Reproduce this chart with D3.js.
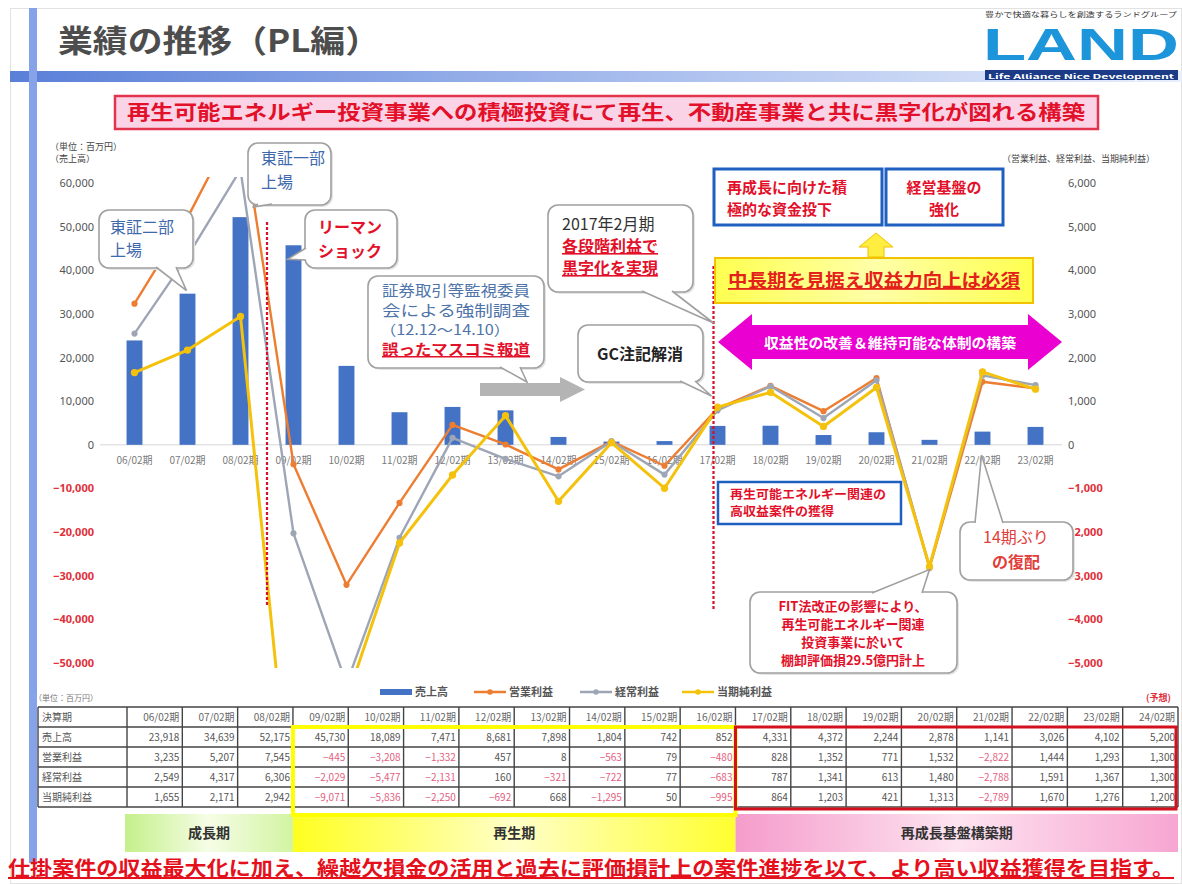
<html>
<head>
<meta charset="utf-8">
<style>
body { margin: 0; background: #fff; }
svg text { font-family: "Noto Sans CJK JP", "Noto Sans", sans-serif; }
.ul { text-decoration: underline; }
</style>
</head>
<body>
<div id="vis"></div>
<script src="https://cdn.jsdelivr.net/npm/d3@7"></script>
<script>
// values in 百万円
var periods = ["06/02期","07/02期","08/02期","09/02期","10/02期","11/02期","12/02期","13/02期","14/02期",
               "15/02期","16/02期","17/02期","18/02期","19/02期","20/02期","21/02期","22/02期","23/02期"];
var sales     = [23918, 34639, 52175, 45730, 18089, 7471, 8681, 7898, 1804, 742, 852, 4331, 4372, 2244, 2878, 1141, 3026, 4102];
var opIncome  = [3235, 5207, 7545, -445, -3208, -1332, 457, 8, -563, 79, -480, 828, 1352, 771, 1532, -2822, 1444, 1293];
var ordIncome = [2549, 4317, 6306, -2029, -5477, -2131, 160, -321, -722, 77, -683, 787, 1341, 613, 1480, -2788, 1591, 1367];
var netIncome = [1655, 2171, 2942, -9071, -5836, -2250, -692, 668, -1295, 50, -995, 864, 1203, 421, 1313, -2789, 1670, 1276];
// 24/02期 forecast, table only (売上高, 営業利益, 経常利益, 当期純利益)
var forecastPeriod = "24/02期";
var forecast = [5200, 1300, 1300, 1200];
var seriesNames = ["売上高", "営業利益", "経常利益", "当期純利益"];
var leftTicks = [-50000, -40000, -30000, -20000, -10000, 0, 10000, 20000, 30000, 40000, 50000, 60000];
var rightTicks = [-5000, -4000, -3000, -2000, -1000, 0, 1000, 2000, 3000, 4000, 5000, 6000];
var phases = ["成長期", "再生期", "再成長基盤構築期"];
var phaseFrom = ["06/02期", "09/02期", "17/02期"];
var phaseTo = ["08/02期", "16/02期", "24/02期"];

var W = 1182, H = 884;
var red = "#e3102a", blueTxt = "#3f69ad";

var svg = d3.select("#vis").append("svg").attr("width", W).attr("height", H);
var defs = svg.append("defs");

function hgrad(id, stops) {
  var g = defs.append("linearGradient").attr("id", id);
  stops.forEach(function(s) { g.append("stop").attr("offset", s[0]).attr("stop-color", s[1]); });
}
hgrad("gBand", [["0", "#5a7fd8"], ["0.55", "#aabfee"], ["1", "#e8eefb"]]);
hgrad("gGreen", [["0", "#c4f08a"], ["0.5", "#f6fde6"], ["1", "#d2f4a2"]]);
hgrad("gYellow", [["0", "#ffff20"], ["0.5", "#ffffc8"], ["1", "#ffff30"]]);
hgrad("gPink", [["0", "#f59ccb"], ["0.5", "#fde3f0"], ["1", "#f7a6d1"]]);
hgrad("gYbox", [["0", "#ffff50"], ["0.5", "#ffffa8"], ["1", "#ffff50"]]);

// ---------- slide frame ----------
svg.append("rect").attr("x", 10.5).attr("y", 8.5).attr("width", 1171).attr("height", 875)
  .attr("fill", "none").attr("stroke", "#e2e2e2");
svg.append("rect").attr("x", 10).attr("y", 71).attr("width", 1172).attr("height", 11).attr("fill", "url(#gBand)");
svg.append("rect").attr("x", 29).attr("y", 8).attr("width", 8).attr("height", 855).attr("fill", "#86a2e8");
svg.append("text").attr("x", 58).attr("y", 52).attr("font-size", 31).attr("font-weight", "bold")
  .attr("fill", "#4d4d4d").attr("textLength", 322).attr("lengthAdjust", "spacingAndGlyphs").text("業績の推移（PL編）");

// logo
svg.append("text").attr("x", 985).attr("y", 17).attr("font-size", 6.5).attr("fill", "#333")
  .attr("textLength", 192).attr("lengthAdjust", "spacingAndGlyphs").text("豊かで快適な暮らしを創造するランドグループ");
svg.append("text").attr("x", 983).attr("y", 60).attr("font-size", 44).attr("font-weight", "bold")
  .style("font-family", "Liberation Sans Narrow, Liberation Sans, sans-serif")
  .attr("fill", "#1c95da").attr("textLength", 196).attr("lengthAdjust", "spacingAndGlyphs").text("LAND");
svg.append("rect").attr("x", 985).attr("y", 70).attr("width", 193).attr("height", 10).attr("fill", "#1b3b86");
svg.append("text").attr("x", 988).attr("y", 78.5).attr("font-size", 6).attr("font-weight", "bold").attr("fill", "#fff")
  .attr("textLength", 186).attr("lengthAdjust", "spacingAndGlyphs").text("Life Alliance Nice Development");

// banner
svg.append("rect").attr("x", 115).attr("y", 96).attr("width", 983).attr("height", 33)
  .attr("fill", "#fbd3e6").attr("stroke", "#e2344c").attr("stroke-width", 2.5);
svg.append("text").attr("x", 606).attr("y", 120).attr("text-anchor", "middle").attr("font-size", 20)
  .attr("font-weight", "bold").attr("fill", red).attr("textLength", 958).attr("lengthAdjust", "spacingAndGlyphs")
  .text("再生可能エネルギー投資事業への積極投資にて再生、不動産事業と共に黒字化が図れる構築");

// ---------- scales ----------
var x = d3.scaleBand().domain(periods).range([108, 1062]).paddingInner(0.7).paddingOuter(0.35);
var bw = x.bandwidth();
var cx = function(p) { return x(p) + bw / 2; };
var yL = d3.scaleLinear().domain([-50000, 60000]).range([663, 183]);
var yR = d3.scaleLinear().domain([-5000, 6000]).range([663, 183]);

// axis titles
svg.append("text").attr("x", 50).attr("y", 150).attr("font-size", 9).attr("fill", "#444").text("（単位：百万円）");
svg.append("text").attr("x", 50).attr("y", 162).attr("font-size", 9).attr("fill", "#444").text("（売上高）");
svg.append("text").attr("x", 1002).attr("y", 162).attr("font-size", 9).attr("fill", "#444").text("（営業利益、経常利益、当期純利益）");

// y axes
var axL = svg.append("g").attr("transform", "translate(98,0)")
  .call(d3.axisLeft(yL).tickValues(leftTicks).tickSize(0).tickPadding(4).tickFormat(d3.format(",")));
var axR = svg.append("g").attr("transform", "translate(1064,0)")
  .call(d3.axisRight(yR).tickValues(rightTicks).tickSize(0).tickPadding(4).tickFormat(d3.format(",")));
[axL, axR].forEach(function(a) {
  a.select(".domain").remove();
  a.selectAll("text").attr("font-size", 11)
    .style("font-family", "Noto Sans, sans-serif")
    .attr("fill", function(d) { return d < 0 ? "#e0303a" : "#555"; })
    .attr("font-weight", function(d) { return d < 0 ? "bold" : "normal"; });
});

// x axis at zero
var axX = svg.append("g").attr("transform", "translate(0," + yL(0) + ")")
  .call(d3.axisBottom(x).tickSize(0).tickPadding(12));
axX.select(".domain").attr("stroke", "#d6d6d6").attr("d", "M100,0H1062");
axX.selectAll("text").attr("font-size", 10).attr("fill", "#7a7a7a");

// bars
svg.append("g").selectAll("rect").data(sales).enter().append("rect")
  .attr("x", function(d, i) { return x(periods[i]); })
  .attr("width", bw)
  .attr("y", function(d) { return yL(d); })
  .attr("height", function(d) { return yL(0) - yL(d); })
  .attr("fill", "#4472c4");

// lines
defs.append("clipPath").attr("id", "plotClip").append("rect")
  .attr("x", 100).attr("y", 177).attr("width", 965).attr("height", 491);
var plot = svg.append("g").attr("clip-path", "url(#plotClip)");
var line = d3.line().x(function(d, i) { return cx(periods[i]); }).y(function(d) { return yR(d); });
var series = [
  { v: opIncome, c: "#ed7d31", w: 2.4, r: 30 },
  { v: ordIncome, c: "#9ea6b6", w: 2.4, r: 30 },
  { v: netIncome, c: "#f4c20d", w: 3, r: 42 }
];
series.forEach(function(s) {
  plot.append("path").datum(s.v).attr("d", line).attr("fill", "none")
    .attr("stroke", s.c).attr("stroke-width", s.w).attr("stroke-linejoin", "round");
  plot.selectAll(null).data(s.v).enter().append("path")
    .attr("transform", function(d, i) { return "translate(" + cx(periods[i]) + "," + yR(d) + ")"; })
    .attr("d", d3.symbol(d3.symbolCircle, s.r)).attr("fill", s.c);
});

// legend
var lg = svg.append("g").attr("transform", "translate(0,692)");
var legX = [380, 474, 580, 682];
var legC = ["#4472c4", "#ed7d31", "#9ea6b6", "#f4c20d"];
seriesNames.forEach(function(n, i) {
  if (i === 0) {
    lg.append("rect").attr("x", legX[i]).attr("y", -3).attr("width", 32).attr("height", 6).attr("fill", legC[i]);
  } else {
    lg.append("line").attr("x1", legX[i]).attr("x2", legX[i] + 32).attr("stroke", legC[i]).attr("stroke-width", 2.5);
    lg.append("circle").attr("cx", legX[i] + 16).attr("r", 2.8).attr("fill", legC[i]);
  }
  lg.append("text").attr("x", legX[i] + 35).attr("y", 4).attr("font-size", 11).attr("font-weight", "bold")
    .attr("fill", "#555").text(n);
});

// ---------- annotations ----------
var ann = svg.append("g");
function callout(b, base, tip, stroke) {
  var g = ann.append("g");
  g.append("rect").attr("x", b[0] + 2).attr("y", b[1] + 2).attr("width", b[2]).attr("height", b[3]).attr("rx", 10)
    .attr("fill", "#e4e4e4");
  g.append("rect").attr("x", b[0]).attr("y", b[1]).attr("width", b[2]).attr("height", b[3]).attr("rx", 10)
    .attr("fill", "#fff").attr("stroke", stroke || "#a0a0a0").attr("stroke-width", 1.6);
  g.append("path").attr("d", "M" + base[0] + "L" + tip + "L" + base[1])
    .attr("fill", "#fff").attr("stroke", stroke || "#a0a0a0").attr("stroke-width", 1.6);
  return g;
}
function txt(g, s, xx, yy, size, fill, opts) {
  opts = opts || {};
  var t = g.append("text").attr("x", xx).attr("y", yy).attr("font-size", size).attr("fill", fill)
    .attr("text-anchor", opts.anchor || "start").attr("font-weight", opts.bold ? "bold" : "normal").text(s);
  if (opts.ul) t.attr("class", "ul");
  if (opts.len) t.attr("textLength", opts.len).attr("lengthAdjust", "spacingAndGlyphs");
  return t;
}

// red dotted event lines
var ev1 = (cx(periods[2]) + cx(periods[3])) / 2;
var ev2 = cx(periods[11]) - 4;
ann.append("line").attr("x1", ev1).attr("x2", ev1).attr("y1", 222).attr("y2", 605)
  .attr("stroke", "#d8102a").attr("stroke-width", 2.2).attr("stroke-dasharray", "3,2");
ann.append("line").attr("x1", ev2).attr("x2", ev2).attr("y1", 266).attr("y2", 610)
  .attr("stroke", "#d8102a").attr("stroke-width", 2.2).attr("stroke-dasharray", "3,2");

// 東証二部上場
var c1 = callout([99, 210, 94, 58], [[156, 267], [176, 267]], [cx(periods[1]) - 1, yL(sales[1]) - 3]);
txt(c1, "東証二部", 110, 233, 16, blueTxt);
txt(c1, "上場", 110, 256, 16, blueTxt);
// 東証一部上場
var c2 = callout([248, 143, 83, 62], [[258, 204], [272, 204]], [cx(periods[2]) + 12, yL(sales[2]) - 10]);
txt(c2, "東証一部", 261, 164, 16, blueTxt);
txt(c2, "上場", 261, 188, 16, blueTxt);
// リーマンショック
var c3 = callout([305, 210, 92, 58], [[306, 248], [306, 260]], [x(periods[3]) + 2, yL(sales[3]) + 14]);
txt(c3, "リーマン", 318, 233, 16, red, { bold: true });
txt(c3, "ショック", 318, 257, 16, red, { bold: true });
// 証券取引等監視委員会
var c4 = callout([368, 276, 176, 92], [[500, 367], [520, 367]], [527, 382]);
txt(c4, "証券取引等監視委員", 382, 296, 15, "#4f74aa", { len: 148 });
txt(c4, "会による強制調査", 382, 316, 15, "#4f74aa", { len: 148 });
txt(c4, "（12.12〜14.10）", 380, 335, 14, "#4f74aa", { len: 130 });
txt(c4, "誤ったマスコミ報道", 382, 355, 15, red, { bold: true, ul: true, len: 148 });
// gray arrow
ann.append("path").attr("d", "M480,383H560V377L585,389.5L560,402V396H480Z").attr("fill", "#b4b4b4");
// 2017年2月期
var c5 = callout([548, 205, 145, 87], [[642, 291], [672, 291]], [ev2, 323]);
txt(c5, "2017年2月期", 562, 230, 16, "#333");
txt(c5, "各段階利益で", 562, 252, 16, red, { bold: true, ul: true });
txt(c5, "黒字化を実現", 562, 274, 16, red, { bold: true, ul: true });
// GC注記解消
var c6 = callout([578, 325, 125, 57], [[680, 381], [695, 381]], [ev2 - 2, 396]);
txt(c6, "GC注記解消", 640, 360, 16, "#222", { bold: true, anchor: "middle" });

// blue boxes
ann.append("rect").attr("x", 714).attr("y", 169).attr("width", 168).attr("height", 56)
  .attr("fill", "#fff").attr("stroke", "#1f5fbf").attr("stroke-width", 3);
ann.append("rect").attr("x", 886).attr("y", 169).attr("width", 117).attr("height", 56)
  .attr("fill", "#fff").attr("stroke", "#1f5fbf").attr("stroke-width", 3);
txt(ann, "再成長に向けた積", 727, 193, 15, red, { bold: true });
txt(ann, "極的な資金投下", 727, 215, 15, red, { bold: true });
txt(ann, "経営基盤の", 944, 193, 15, red, { bold: true, anchor: "middle" });
txt(ann, "強化", 944, 215, 15, red, { bold: true, anchor: "middle" });
// yellow up arrow
ann.append("path").attr("d", "M876,233L893,247H884V257H868V247H859Z").attr("fill", "#ffee40").attr("stroke", "#f0c000").attr("stroke-width", 1);
// yellow box
ann.append("rect").attr("x", 715).attr("y", 258).attr("width", 318).attr("height", 45)
  .attr("fill", "url(#gYbox)").attr("stroke", "#f2c200").attr("stroke-width", 2);
txt(ann, "中長期を見据え収益力向上は必須", 874, 287, 18, "#e4201a", { bold: true, ul: true, anchor: "middle", len: 292 });
// magenta double arrow
ann.append("path").attr("d", "M718,342L752,314V325H1028V314L1062,342L1028,370V359H752V370Z").attr("fill", "#ea00d0");
txt(ann, "収益性の改善＆維持可能な体制の構築", 890, 348, 14, "#fff", { bold: true, anchor: "middle", len: 252 });
// 再生可能エネルギー関連
ann.append("rect").attr("x", 718).attr("y", 482).attr("width", 183).attr("height", 42)
  .attr("fill", "#fff").attr("stroke", "#1f5fbf").attr("stroke-width", 2.5);
txt(ann, "再生可能エネルギー関連の", 730, 499, 12, red, { bold: true, len: 156 });
txt(ann, "高収益案件の獲得", 730, 516, 12, red, { bold: true, len: 104 });
// FIT
var c7 = callout([750, 592, 207, 81], [[872, 593], [922, 593]], [cx(periods[15]), yR(netIncome[15]) + 3]);
txt(c7, "FIT法改正の影響により、", 853, 611, 13, red, { bold: true, anchor: "middle" });
txt(c7, "再生可能エネルギー関連", 853, 629, 13, red, { bold: true, anchor: "middle" });
txt(c7, "投資事業に於いて", 853, 647, 13, red, { bold: true, anchor: "middle" });
txt(c7, "棚卸評価損29.5億円計上", 853, 665, 13, red, { bold: true, anchor: "middle" });
// 14期ぶりの復配
var c8 = callout([960, 522, 113, 58], [[975, 523], [1003, 523]], [cx(periods[16]) - 1, 455]);
txt(c8, "14期ぶり", 1016, 543, 16, "#e0403a", { anchor: "middle" });
txt(c8, "の復配", 1016, 568, 16, "#e0403a", { anchor: "middle", bold: true });

// ---------- table ----------
var tPeriods = periods.concat([forecastPeriod]);
var tRows = [sales, opIncome, ordIncome, netIncome].map(function(a, i) { return a.concat([forecast[i]]); });
var tx = d3.scaleBand().domain(tPeriods).range([127, 1178]);
var cw = tx.bandwidth();
var ty = d3.scaleBand().domain(d3.range(5)).range([707, 807]);
var rh = ty.bandwidth();
var tg = svg.append("g");
txt(tg, "（単位：百万円）", 34, 701, 8, "#777");
txt(tg, "(予想)", 1146, 701, 9, "#e0303a", { bold: true });
var fmt = d3.format(",");
txt(tg, "決算期", 42, ty(0) + 14, 10, "#555");
tPeriods.forEach(function(p) {
  txt(tg, p, tx(p) + cw - 3, ty(0) + 14, 10, "#666", { anchor: "end" });
});
tRows.forEach(function(row, r) {
  txt(tg, seriesNames[r], 42, ty(r + 1) + 14, 10, "#555");
  row.forEach(function(v, c) {
    txt(tg, fmt(v), tx(tPeriods[c]) + cw - 3, ty(r + 1) + 14, 10, v < 0 ? "#e46080" : "#555", { anchor: "end" });
  });
});
d3.range(6).forEach(function(i) {
  var yy = 707 + i * rh;
  tg.append("line").attr("x1", 38).attr("x2", 1178).attr("y1", yy).attr("y2", yy).attr("stroke", "#444").attr("stroke-width", 1.4);
});
[38].concat(tPeriods.map(function(p) { return tx(p); }), [1178]).forEach(function(xx) {
  tg.append("line").attr("x1", xx).attr("x2", xx).attr("y1", 707).attr("y2", 807).attr("stroke", "#444").attr("stroke-width", 1.4);
});

// phase bands
var bandFill = ["url(#gGreen)", "url(#gYellow)", "url(#gPink)"];
phases.forEach(function(ph, i) {
  var x0 = tx(phaseFrom[i]), x1 = tx(phaseTo[i]) + cw;
  if (i === 0) x0 -= 2;
  tg.append("rect").attr("x", x0).attr("y", 814).attr("width", x1 - x0).attr("height", 38).attr("fill", bandFill[i]);
  txt(tg, ph, (x0 + x1) / 2, 838, 14, "#333", { bold: true, anchor: "middle" });
});
// highlight frames
tg.append("rect").attr("x", tx(phaseFrom[1])).attr("y", 727).attr("width", tx(phaseFrom[2]) - tx(phaseFrom[1]))
  .attr("height", 88).attr("fill", "none").attr("stroke", "#ffff00").attr("stroke-width", 4);
tg.append("rect").attr("x", tx(phaseFrom[2])).attr("y", 727).attr("width", 1176 - tx(phaseFrom[2]))
  .attr("height", 82).attr("fill", "none").attr("stroke", "#d4101e").attr("stroke-width", 3);

// bottom message
txt(svg, "仕掛案件の収益最大化に加え、繰越欠損金の活用と過去に評価損計上の案件進捗を以て、より高い収益獲得を目指す。",
  8, 876, 20, "#e4101c", { bold: true, ul: true, len: 1166 });
</script>
</body>
</html>
